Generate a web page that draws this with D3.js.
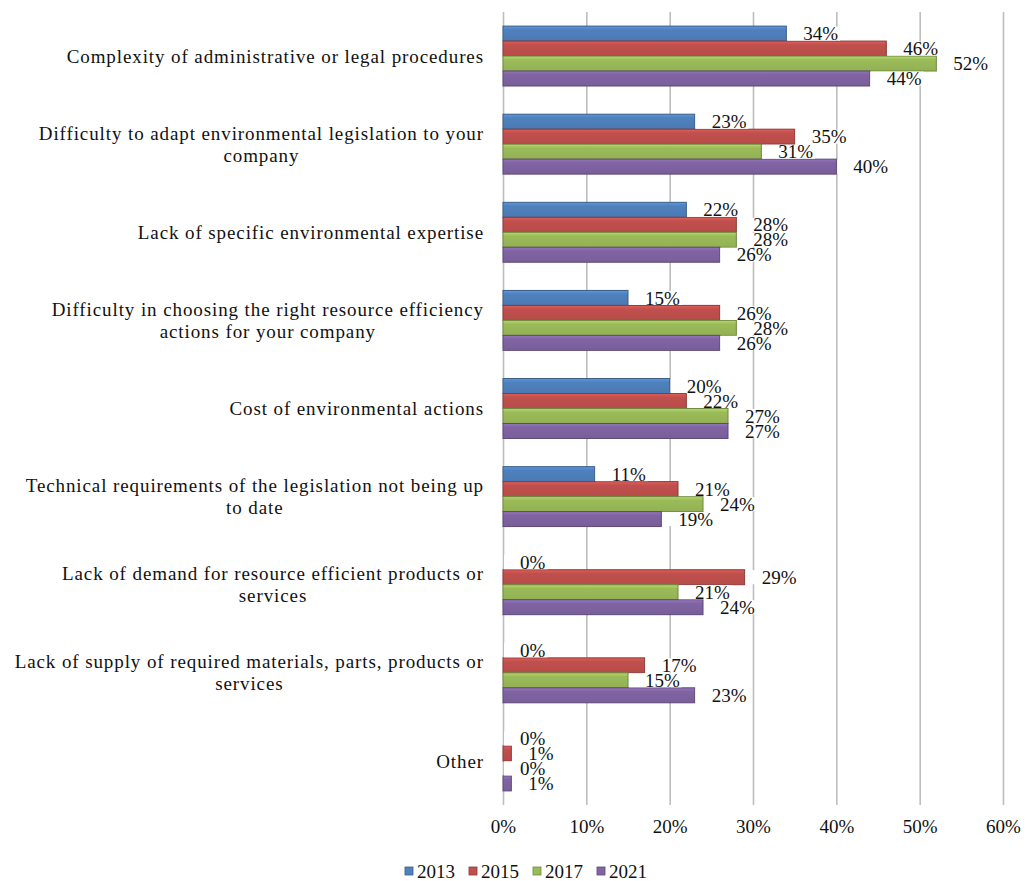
<!DOCTYPE html>
<html>
<head>
<meta charset="utf-8">
<script src="https://cdn.jsdelivr.net/npm/d3@7"></script>
<style>
  body { margin: 0; background: #fff; }
  svg { display: block; }
  text { font-family: "Liberation Serif", "Times New Roman", serif; fill: #111; }
</style>
</head>
<body>
<svg id="chart" width="1026" height="881"></svg>
<script>
// Barriers reported by companies, share of respondents per survey year
const categories = [
  "Complexity of administrative or legal procedures",
  "Difficulty to adapt environmental legislation to your\ncompany",
  "Lack of specific environmental expertise",
  "Difficulty in choosing the right resource efficiency\nactions for your company",
  "Cost of environmental actions",
  "Technical requirements of the legislation not being up\nto date",
  "Lack of demand for resource efficient products or\nservices",
  "Lack of supply of required materials, parts, products or\nservices",
  "Other"
];
const years = ["2013", "2015", "2017", "2021"];
const values2013 = [34, 23, 22, 15, 20, 11, 0, 0, 0];
const values2015 = [46, 35, 28, 26, 22, 21, 29, 17, 1];
const values2017 = [52, 31, 28, 28, 27, 24, 21, 15, 0];
const values2021 = [44, 40, 26, 26, 27, 19, 24, 23, 1];
const xTicks = [0, 10, 20, 30, 40, 50, 60];
const colors = ["#4f81bd", "#c0504d", "#9bbb59", "#8064a2"];

const seriesValues = [values2013, values2015, values2017, values2021];

const svg = d3.select("#chart");
const plot = { left: 503, right: 1003, top: 12, bottom: 805 };

const x = d3.scaleLinear().domain([0, 60]).range([plot.left, plot.right]);
const y = d3.scaleBand().domain(categories)
  .range([plot.top, plot.bottom]).paddingInner(0.32).paddingOuter(0.16);
const yInner = d3.scaleBand().domain(years).range([0, y.bandwidth()]);
const color = d3.scaleOrdinal().domain(years).range(colors);

// bar gradients, lighter at the top edge
const defs = svg.append("defs");
years.forEach(yr => {
  const c = color(yr);
  const g = defs.append("linearGradient").attr("id", "grad" + yr)
    .attr("x1", 0).attr("y1", 0).attr("x2", 0).attr("y2", 1);
  g.append("stop").attr("offset", "0%").attr("stop-color", d3.color(c).brighter(0.45));
  g.append("stop").attr("offset", "25%").attr("stop-color", c);
  g.append("stop").attr("offset", "100%").attr("stop-color", d3.color(c).darker(0.15));
});

// vertical gridlines
svg.append("g")
  .attr("transform", `translate(0,${plot.bottom})`)
  .call(d3.axisBottom(x).tickValues(xTicks).tickSize(-(plot.bottom - plot.top)).tickFormat(""))
  .call(g => g.select(".domain").remove())
  .call(g => g.selectAll("line").attr("stroke", "#bdbdbd").attr("stroke-width", 1.6));

// x tick labels
svg.append("g")
  .attr("transform", `translate(0,${plot.bottom})`)
  .call(d3.axisBottom(x).tickValues(xTicks).tickSize(0).tickPadding(15).tickFormat(d => d + "%"))
  .call(g => g.select(".domain").remove())
  .call(g => g.selectAll("text").attr("font-size", 19).style("font-family", "Liberation Serif, serif").attr("fill", "#111"));

// records for bars and labels
const records = [];
categories.forEach((cat, i) => {
  years.forEach((yr, j) => {
    records.push({ cat, yr, value: seriesValues[j][i] });
  });
});

// bars
svg.append("g").selectAll("rect")
  .data(records.filter(d => d.value > 0))
  .join("rect")
  .attr("x", x(0))
  .attr("y", d => y(d.cat) + yInner(d.yr))
  .attr("width", d => x(d.value) - x(0))
  .attr("height", yInner.bandwidth())
  .attr("fill", d => `url(#grad${d.yr})`)
  .attr("stroke", d => d3.color(color(d.yr)).darker(0.9))
  .attr("stroke-width", 1);

// value labels with white backing boxes
const labelLayer = svg.append("g");
records.forEach(d => {
  const cy = y(d.cat) + yInner(d.yr) + yInner.bandwidth() / 2;
  const g = labelLayer.append("g");
  const box = g.append("rect").attr("fill", "#fff");
  const t = g.append("text")
    .attr("x", x(d.value) + 17)
    .attr("y", cy)
    .attr("dy", "0.35em")
    .attr("font-size", 19)
    .text(d.value + "%");
  const w = t.node().getComputedTextLength();
  box.attr("x", x(d.value) + 1).attr("y", cy - 7)
    .attr("width", w + 18).attr("height", 14);
});

// category labels, right edge at 484, wrapped lines centered on each other
const labelRight = 484;
const lineH = 22;
categories.forEach(cat => {
  const lines = cat.split("\n");
  const g = svg.append("g");
  const cy = y(cat) + y.bandwidth() / 2;
  const texts = lines.map((ln, k) => g.append("text")
    .attr("font-size", 19)
    .attr("letter-spacing", 0.9)
    .attr("text-anchor", "middle")
    .attr("y", cy + (k - (lines.length - 1) / 2) * lineH)
    .attr("dy", "0.35em")
    .text(ln));
  const maxW = d3.max(texts, t => t.node().getComputedTextLength());
  texts.forEach(t => t.attr("x", labelRight - maxW / 2));
});

// legend
const legend = svg.append("g");
let lx = 405;
const ly = 871;
years.forEach(yr => {
  legend.append("rect")
    .attr("x", lx).attr("y", ly - 4).attr("width", 8).attr("height", 8)
    .attr("fill", color(yr)).attr("stroke", d3.color(color(yr)).darker(0.9)).attr("stroke-width", 0.8);
  const t = legend.append("text")
    .attr("x", lx + 12).attr("y", ly).attr("dy", "0.35em")
    .attr("font-size", 19).text(yr);
  lx += 12 + t.node().getComputedTextLength() + 14;
});
</script>
</body>
</html>
